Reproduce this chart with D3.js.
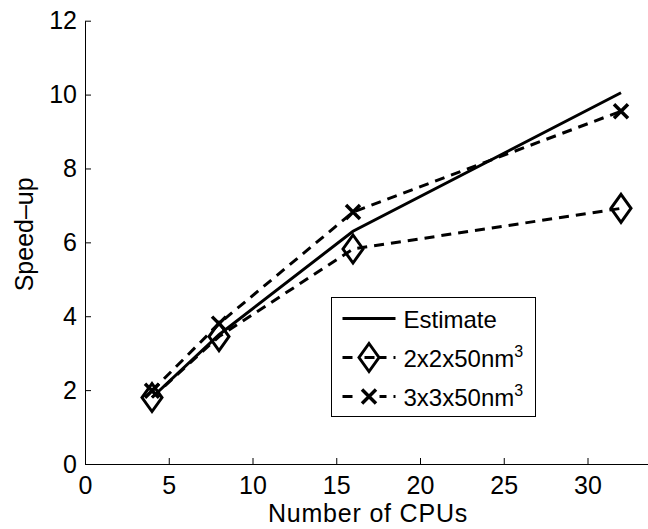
<!DOCTYPE html>
<html lang="en">
<head>
    <meta charset="UTF-8">
    <script src="https://d3js.org/d3.v7.min.js"></script>
    <title>Speed-up vs number of CPUs</title>
    <style>
        body { margin: 0; background: #fff; }
        svg { display: block; }
        text { font-family: "Liberation Sans", Arial, sans-serif; fill: #000; }
    </style>
</head>
<body>
    <svg width="648" height="529"></svg>

    <script>
        // data
        const cpus = [4, 8, 16, 32];
        const estimate = [1.8, 3.5, 6.3, 10.05];
        const run2x2 = [1.8, 3.45, 5.82, 6.92];
        const run3x3 = [1.98, 3.8, 6.82, 9.55];
        const xTicks = [0, 5, 10, 15, 20, 25, 30];
        const yTicks = [0, 2, 4, 6, 8, 10, 12];
        const legendLabels = ['Estimate', '2x2x50nm', '3x3x50nm'];

        const svg = d3.select('svg');
        const plotLeft = 85, plotBottom = 464, plotTop = 20.7;

        const x = d3.scaleLinear().domain([0, 35]).range([plotLeft, plotLeft + 35 * 16.75]);
        const y = d3.scaleLinear().domain([0, 12]).range([plotBottom, plotTop]);

        const xAxis = d3.axisBottom(x)
            .tickValues(xTicks)
            .tickSizeInner(-6)
            .tickSizeOuter(0)
            .tickPadding(12);

        const yAxis = d3.axisLeft(y)
            .tickValues(yTicks)
            .tickSizeInner(-6)
            .tickSizeOuter(0)
            .tickPadding(8);

        const gx = svg.append('g')
            .attr('transform', `translate(0, ${plotBottom})`)
            .call(xAxis);
        const gy = svg.append('g')
            .attr('transform', `translate(${plotLeft}, 0)`)
            .call(yAxis);

        [gx, gy].forEach(g => {
            g.selectAll('path, line').attr('stroke', '#000').attr('stroke-width', 1);
            g.selectAll('text').attr('font-size', 25).attr('font-family', '"Liberation Sans", Arial, sans-serif');
        });
        gx.selectAll('text').attr('dy', '0.7em');

        svg.append('text')
            .attr('x', 368)
            .attr('y', 522)
            .attr('text-anchor', 'middle')
            .attr('font-size', 25)
            .attr('letter-spacing', 0.8)
            .text('Number of CPUs');

        svg.append('text')
            .attr('transform', `translate(33, ${(plotTop + plotBottom) / 2 - 8}) rotate(-90)`)
            .attr('text-anchor', 'middle')
            .attr('font-size', 25)
            .text('Speed\u2013up');

        const line = d3.line()
            .x((d, i) => x(cpus[i]))
            .y(d => y(d));

        const dash = '10,7';

        svg.append('path')
            .datum(estimate)
            .attr('d', line)
            .attr('fill', 'none')
            .attr('stroke', '#000')
            .attr('stroke-width', 3);

        svg.append('path')
            .datum(run2x2)
            .attr('d', line)
            .attr('fill', 'none')
            .attr('stroke', '#000')
            .attr('stroke-width', 3)
            .attr('stroke-dasharray', dash);

        svg.append('path')
            .datum(run3x3)
            .attr('d', line)
            .attr('fill', 'none')
            .attr('stroke', '#000')
            .attr('stroke-width', 3)
            .attr('stroke-dasharray', dash);

        const diamond = 'M0,-14L10,0L0,14L-10,0Z';
        const cross = 'M-7,-7L7,7M-7,7L7,-7';

        svg.selectAll('.dia')
            .data(run2x2)
            .enter().append('path')
            .attr('class', 'dia')
            .attr('transform', (d, i) => `translate(${x(cpus[i])}, ${y(d)})`)
            .attr('d', diamond)
            .attr('fill', 'none')
            .attr('stroke', '#000')
            .attr('stroke-width', 3);

        svg.selectAll('.crs')
            .data(run3x3)
            .enter().append('path')
            .attr('class', 'crs')
            .attr('transform', (d, i) => `translate(${x(cpus[i])}, ${y(d)})`)
            .attr('d', cross)
            .attr('fill', 'none')
            .attr('stroke', '#000')
            .attr('stroke-width', 3.5);

        // legend
        const lg = svg.append('g').attr('transform', 'translate(331.5, 297.5)');
        lg.append('rect')
            .attr('width', 204)
            .attr('height', 119)
            .attr('fill', '#fff')
            .attr('stroke', '#000')
            .attr('stroke-width', 1);

        const rows = [21, 60, 99];
        legendLabels.forEach((label, i) => {
            const ry = rows[i];
            lg.append('line')
                .attr('x1', 11).attr('x2', 64)
                .attr('y1', ry).attr('y2', ry)
                .attr('stroke', '#000')
                .attr('stroke-width', 3)
                .attr('stroke-dasharray', i === 0 ? null : dash);
            if (i === 1) {
                lg.append('path')
                    .attr('transform', `translate(37.5, ${ry})`)
                    .attr('d', diamond)
                    .attr('fill', '#fff')
                    .attr('stroke', '#000')
                    .attr('stroke-width', 3);
                lg.append('line')
                    .attr('x1', 33).attr('x2', 43).attr('y1', ry).attr('y2', ry)
                    .attr('stroke', '#000').attr('stroke-width', 3);
            }
            if (i === 2) {
                lg.append('rect')
                    .attr('x', 27).attr('y', ry - 9).attr('width', 21).attr('height', 18)
                    .attr('fill', '#fff');
                lg.append('path')
                    .attr('transform', `translate(37.5, ${ry})`)
                    .attr('d', cross)
                    .attr('fill', 'none')
                    .attr('stroke', '#000')
                    .attr('stroke-width', 3.5);
            }
            const t = lg.append('text')
                .attr('x', 72)
                .attr('y', ry + 9)
                .attr('font-size', 24)
                .text(label);
            if (i > 0) {
                t.append('tspan')
                    .attr('dy', -10)
                    .attr('font-size', 16)
                    .text('3');
            }
        });
    </script>
</body>
</html>
